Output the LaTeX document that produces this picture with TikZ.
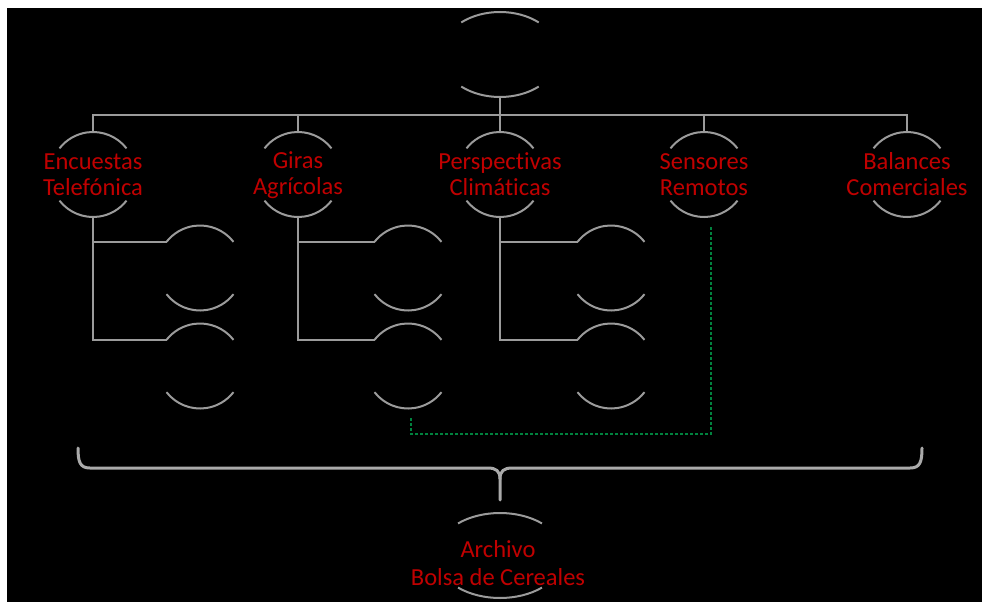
\documentclass[tikz,border=0pt]{standalone}
\usepackage{fontspec}
\setmainfont[Ligatures={NoCommon,NoRare},Contextuals=NoAlternate]{Carlito}
\usetikzlibrary{calc}
\definecolor{lg}{RGB}{155,155,155}
\definecolor{bg}{RGB}{170,170,170}
\definecolor{tred}{RGB}{192,0,0}
\definecolor{dgreen}{RGB}{0,130,62}
\tikzset{
  hub/.style={circle, minimum size=85pt, inner sep=0pt, outer sep=0pt},
  lbl/.style={text=tred, align=center, font=\fontsize{24.5}{26}\selectfont, inner sep=0pt},
  arcline/.style={draw=lg, line width=2pt},
  conn/.style={draw=lg, line width=2pt},
  link/.style={draw=dgreen, line width=1.3pt, dash pattern=on 3pt off 2pt},
  bracestyle/.style={draw=bg, line width=3pt, line join=round, line cap=round}
}
\newcommand\hubarcs[1]{%
  \draw[arcline] (#1.38) arc[start angle=38,end angle=142,radius=42.5pt];
  \draw[arcline] (#1.218) arc[start angle=218,end angle=322,radius=42.5pt];}
\newcommand\ovalarcs[2]{%
  \draw[arcline] ($(#1.center)+(49:#2 and 42.5)$) arc[start angle=49,end angle=131,x radius=#2pt,y radius=42.5pt];
  \draw[arcline] ($(#1.center)+(229:#2 and 42.5)$) arc[start angle=229,end angle=311,x radius=#2pt,y radius=42.5pt];}
\begin{document}
\begin{tikzpicture}[x=1pt,y=1pt]
\useasboundingbox (0,0) rectangle (982,-602);
\fill[white] (0,0) rectangle (982,-602);
\fill[black] (7,-8) rectangle (982,-602);
\begin{scope}
\clip (7,-8) rectangle (982,-602);
% hubs
\node[hub] (top) at (500,-54.5) {};
\node[hub] (enc) at (93,-174.5) {};
\node[hub] (gir) at (298,-174.5) {};
\node[hub] (per) at (500,-174.5) {};
\node[hub] (sen) at (704,-174.5) {};
\node[hub] (bal) at (907,-174.5) {};
\node[hub] (e1) at (200,-268) {};
\node[hub] (e2) at (200,-366) {};
\node[hub] (g1) at (408,-268) {};
\node[hub] (g2) at (408,-366) {};
\node[hub] (p1) at (611,-268) {};
\node[hub] (p2) at (611,-366) {};
\node[hub] (arc) at (500,-555.5) {};
% arcs
\ovalarcs{top}{59}
\ovalarcs{arc}{64}
\hubarcs{enc}\hubarcs{gir}\hubarcs{per}\hubarcs{sen}\hubarcs{bal}
\hubarcs{e1}\hubarcs{e2}\hubarcs{g1}\hubarcs{g2}\hubarcs{p1}\hubarcs{p2}
% labels
\node[lbl] (encT) at (enc.center) {Encuestas\\Telefónica};
\node[lbl] (girT) at ($(gir.center)+(0,-1)$) {Giras\\Agrícolas};
\node[lbl] (perT) at (per.center) {Perspectivas\\Climáticas};
\node[lbl] (senT) at (sen.center) {Sensores\\Remotos};
\node[lbl] (balT) at (bal.center) {Balances\\Comerciales};
\node[lbl, font=\fontsize{24.5}{28}\selectfont] (arcT) at (498,-563) {Archivo\\Bolsa de Cereales};
% top bar
\coordinate (bar) at (0,-115);
\draw[conn] (top.south) -- (top.south |- bar);
\draw[conn] (enc.north) -- (enc.north |- bar) -| (bal.north);
\draw[conn] (gir.north) -- (gir.north |- bar);
\draw[conn] (per.north) -- (per.north |- bar);
\draw[conn] (sen.north) -- (sen.north |- bar);
% sub branches
\draw[conn] (enc.south) |- (e2.142);
\draw[conn] (enc.south |- e1.142) -- (e1.142);
\draw[conn] (gir.south) |- (g2.142);
\draw[conn] (gir.south |- g1.142) -- (g1.142);
\draw[conn] (per.south) |- (p2.142);
\draw[conn] (per.south |- p1.142) -- (p1.142);
% green dashed link
\coordinate (gs) at ($(sen.south)+(7,-10)$);
\coordinate (ge) at ($(g2.south)+(3,-8)$);
\coordinate (gl) at (0,-434);
\draw[link] (gs) -- (gs |- gl) -| (ge);
% brace
\coordinate (bl) at (78,-448);
\coordinate (br) at (922,-448);
\coordinate (bt) at (500,-500);
\draw[bracestyle] (bl) .. controls (78,-462) and (80,-468) .. (90,-468) -- (488,-468) .. controls (496,-468) and (500,-471) .. (500,-479) -- (bt);
\draw[bracestyle] (br) .. controls (922,-462) and (920,-468) .. (910,-468) -- (512,-468) .. controls (504,-468) and (500,-471) .. (500,-479);
\end{scope}
\end{tikzpicture}
\end{document}
